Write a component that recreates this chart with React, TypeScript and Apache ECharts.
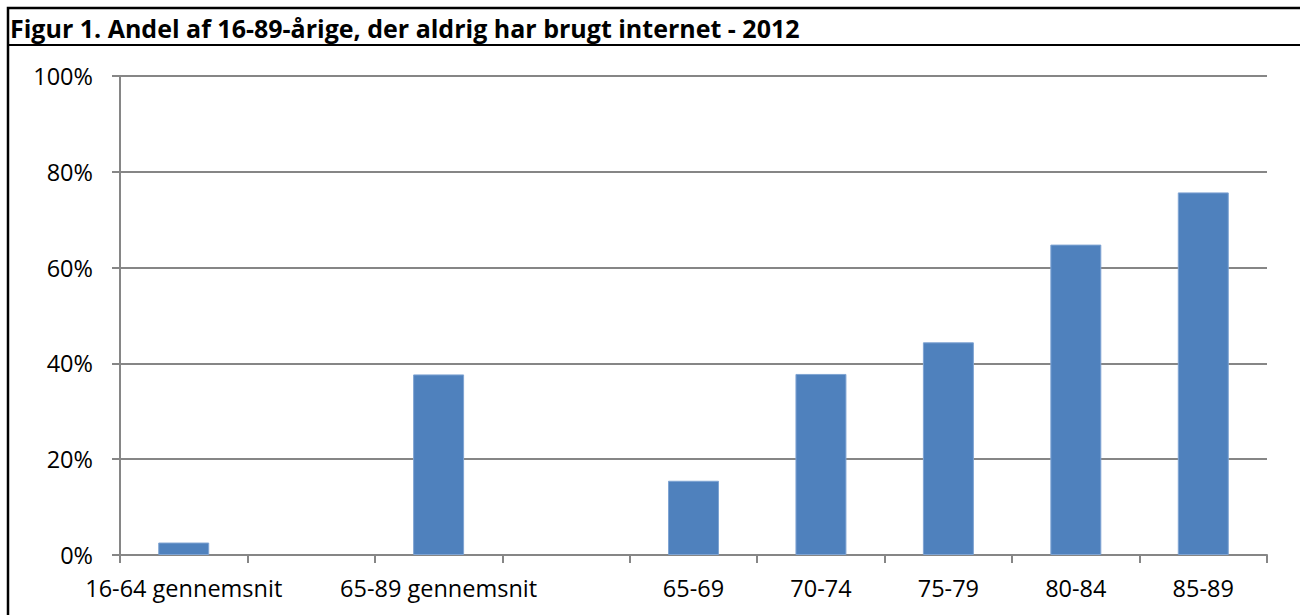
import React, { useEffect, useRef } from "react";
import * as echarts from "echarts";

const categories = ["16-64 gennemsnit", "", "65-89 gennemsnit", "", "65-69", "70-74", "75-79", "80-84", "85-89"];
const values: (number | null)[] = [2.6, null, 37.7, null, 15.5, 37.8, 44.4, 64.8, 75.7];
const titleText = "Figur 1. Andel af 16-89-årige, der aldrig har brugt internet - 2012";
const yTicks = [0, 20, 40, 60, 80, 100];

const FONT = "Open Sans";

export default function App() {
  const ref = useRef<HTMLDivElement>(null);
  useEffect(() => {
    if (!ref.current) return;
    const chart = echarts.init(ref.current, null, { renderer: "svg" });
    chart.setOption({
      animation: false,
      backgroundColor: "#ffffff",
      textStyle: { fontFamily: FONT },
      grid: { left: 120, right: 33, top: 76, bottom: 60, containLabel: false },
      xAxis: {
        type: "category",
        data: categories,
        axisLine: { lineStyle: { color: "#868686", width: 2 } },
        axisTick: { show: true, alignWithLabel: false, length: 8, lineStyle: { color: "#868686", width: 2 } },
        axisLabel: { color: "#000", fontSize: 23.5, fontFamily: FONT, margin: 21, interval: 0 },
      },
      yAxis: {
        type: "value",
        min: 0,
        max: yTicks[yTicks.length - 1],
        interval: 20,
        axisLine: { show: true, lineStyle: { color: "#868686", width: 2 } },
        axisTick: { show: true, length: 8, lineStyle: { color: "#868686", width: 2 } },
        splitLine: { lineStyle: { color: "#868686", width: 2 } },
        axisLabel: { color: "#000", fontSize: 23.5, fontFamily: FONT, margin: 27, formatter: "{value}%" },
      },
      series: [
        {
          type: "bar",
          data: values,
          barWidth: "40%",
          itemStyle: { color: "#4F81BD", borderColor: "#7FA4D3", borderWidth: 1 },
        },
      ],
      graphic: [
        { type: "rect", shape: { x: 8, y: 8, width: 1310, height: 640 }, style: { fill: "none", stroke: "#000", lineWidth: 2.5 }, silent: true },
        { type: "line", shape: { x1: 8, y1: 45, x2: 1300, y2: 45 }, style: { stroke: "#000", lineWidth: 2 }, silent: true },
        {
          type: "text",
          x: 10,
          y: 28,
          style: { text: titleText, font: `bold 25px ${FONT}`, fill: "#000", textVerticalAlign: "middle", verticalAlign: "middle" },
          silent: true,
        },
      ],
    });
    return () => chart.dispose();
  }, []);
  return <div ref={ref} style={{ position: "fixed", left: 0, top: 0, width: 1300, height: 615 }} />;
}
